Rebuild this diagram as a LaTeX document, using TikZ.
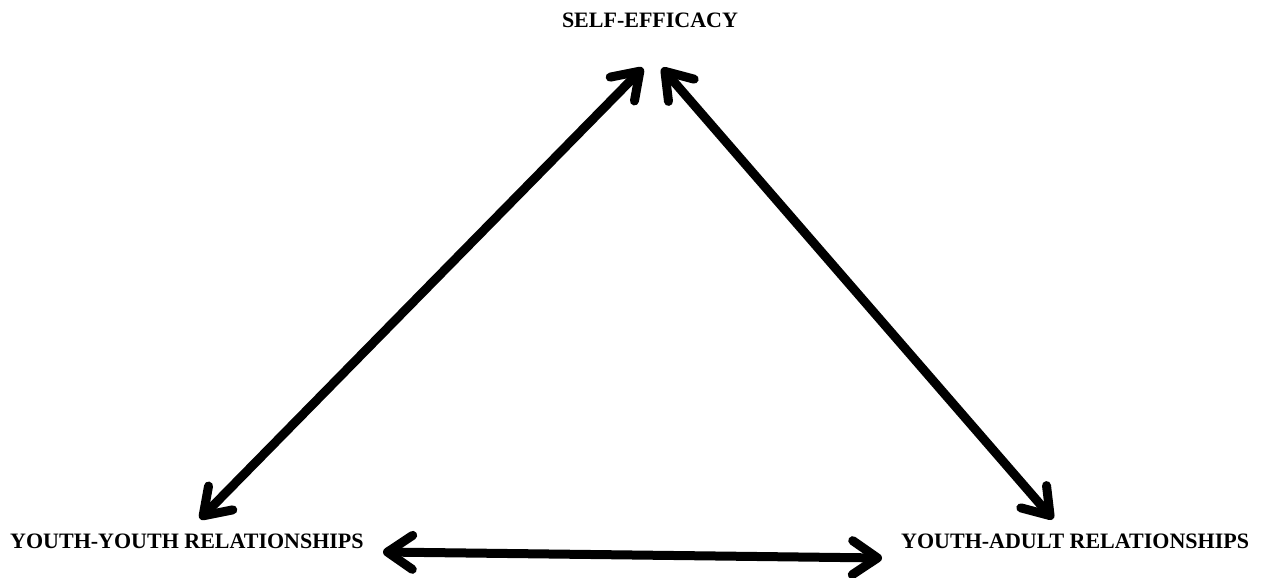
\documentclass[tikz,border=0pt]{standalone}
\usepackage{fontspec}
\setmainfont{Liberation Serif}
\usetikzlibrary{arrows.meta}
\begin{document}
\begin{tikzpicture}[x=1pt,y=-1pt,
  lbl/.style={font=\fontsize{22}{24}\selectfont\bfseries, inner sep=0pt},
  link/.style={line width=9pt, {Straight Barb[length=25pt,width=34pt,round]}-{Straight Barb[length=25pt,width=34pt,round]}}]
\useasboundingbox[fill=white] (0,0) rectangle (1267,578);
\node[lbl, anchor=base] (se) at (650,28) {SELF-EFFICACY};
\node[lbl, anchor=base west] (yy) at (10,548) {YOUTH-YOUTH RELATIONSHIPS};
\node[lbl, anchor=base west] (ya) at (901,548) {YOUTH-ADULT RELATIONSHIPS};
\coordinate (seL) at (643,68);
\coordinate (seR) at (662,68);
\coordinate (yyT) at (200,519);
\coordinate (yyR) at (383,552);
\coordinate (yaT) at (1053,519);
\coordinate (yaL) at (882,558);
\draw[link] (yyT) -- (seL);
\draw[link] (seR) -- (yaT);
\draw[link] (yyR) -- (yaL);
\end{tikzpicture}
\end{document}
